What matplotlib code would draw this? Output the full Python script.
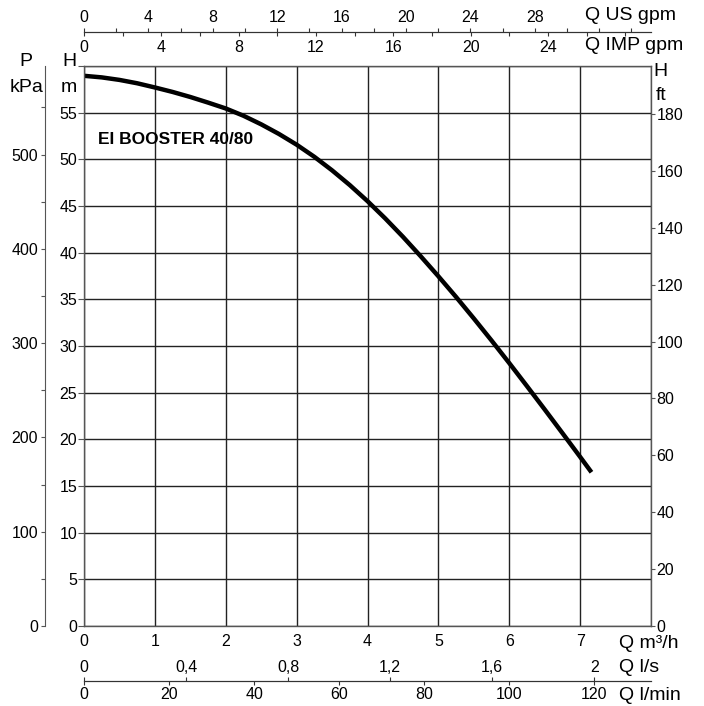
import matplotlib
matplotlib.use('Agg')
import matplotlib.pyplot as plt
from matplotlib.ticker import FixedLocator, MultipleLocator, NullFormatter

plt.rcParams['font.family'] = ['Liberation Sans', 'DejaVu Sans']

# ---- data ----
q_m3h = [0, 0.25, 0.5, 0.75, 1, 1.25, 1.5, 1.75, 2, 2.25, 2.5, 2.75, 3, 3.25, 3.5, 3.75,
         4, 4.25, 4.5, 4.75, 5, 5.25, 5.5, 5.75, 6, 6.25, 6.5, 6.75, 7, 7.16]
h_m = [58.95, 58.78, 58.51, 58.15, 57.70, 57.22, 56.68, 56.08, 55.45, 54.67, 53.75, 52.72,
       51.57, 50.27, 48.82, 47.24, 45.52, 43.67, 41.70, 39.62, 37.47, 35.25, 32.95, 30.59,
       28.17, 25.70, 23.20, 20.67, 18.12, 16.47]

q_ticks = [0, 1, 2, 3, 4, 5, 6, 7, 8]
q_labels = ['0', '1', '2', '3', '4', '5', '6', '7', '']
h_ticks = list(range(0, 61, 5))
h_labels = [str(v) for v in range(0, 56, 5)] + ['']
ft_ticks = list(range(0, 181, 20))
kpa_ticks = [0, 100, 200, 300, 400, 500]
kpa_minor = [50, 150, 250, 350, 450, 550]
ls_ticks = [0, 0.4, 0.8, 1.2, 1.6, 2.0]
ls_labels = ['0', '0,4', '0,8', '1,2', '1,6', '2']
lmin_ticks = [0, 20, 40, 60, 80, 100, 120]
usgpm_ticks = [0, 4, 8, 12, 16, 20, 24, 28]
impgpm_ticks = [0, 4, 8, 12, 16, 20, 24]
title = 'EI BOOSTER 40/80'

Q_MAX, H_MAX = 8, 60
FT_PER_M = 3.2808
KPA_PER_M = 9.9
LS_PER_M3H = 1 / 3.6
LMIN_PER_M3H = 1000 / 60
USGPM_PER_M3H = 4.4029
IMPGPM_PER_M3H = 3.6662

W, H = 704, 706
fig = plt.figure(figsize=(W / 100, H / 100), dpi=100)

def fx(x):
    return x / W

def fy(y):
    return 1 - y / H

TFS = 11.5
TK = '#333333'
L, R, T, B = 84, 651, 66, 626
ax = fig.add_axes([fx(L), fy(B), (R - L) / W, (B - T) / H])
ax.set_xlim(0, Q_MAX)
ax.set_ylim(0, H_MAX)
ax.set_xticks(q_ticks)
ax.set_xticklabels(q_labels)
ax.set_yticks(h_ticks)
ax.set_yticklabels(h_labels)
ax.grid(True, color='#222222', lw=1.0)
ax.set_axisbelow(True)
for s in ax.spines.values():
    s.set_color('#555555')
    s.set_linewidth(1.0)
ax.tick_params(axis='x', length=0, pad=6, labelsize=TFS)
ax.tick_params(axis='y', length=4, width=0.8, color='#555555', pad=1, labelsize=TFS, direction='out')
ax.plot(q_m3h, h_m, color='black', lw=3.2, solid_capstyle='butt', solid_joinstyle='round')

# right ft axis
ax2 = ax.twinx()
ax2.set_ylim(0, H_MAX * FT_PER_M)
ax2.set_yticks(ft_ticks)
ax2.tick_params(axis='y', length=3, width=0.8, color='#555555', pad=1, labelsize=TFS, direction='out')
for s in ax2.spines.values():
    s.set_visible(False)

# left kPa axis
axp = fig.add_axes([fx(45), fy(B), 0.0001, (B - T) / H])
axp.set_ylim(0, H_MAX * KPA_PER_M)
axp.set_yticks(kpa_ticks)
axp.yaxis.set_minor_locator(FixedLocator(kpa_minor))
axp.yaxis.set_minor_formatter(NullFormatter())
axp.set_xticks([])
for k in ('top', 'right', 'bottom'):
    axp.spines[k].set_visible(False)
axp.spines['left'].set_color('#555555')
axp.patch.set_visible(False)
axp.tick_params(axis='y', which='both', length=3, width=0.8, color='#555555', pad=2, labelsize=TFS, direction='out')

def flow_scale(ypix, xmax, side):
    a = fig.add_axes([fx(L), fy(ypix), (R - L) / W, 0.0001])
    a.set_xlim(0, xmax)
    a.set_yticks([])
    for k in ('left', 'right', 'top', 'bottom'):
        a.spines[k].set_visible(k == side)
    a.spines[side].set_color(TK)
    a.patch.set_visible(False)
    a.xaxis.set_ticks_position(side)
    a.xaxis.set_label_position(side)
    return a

# bottom flow scales (l/s above the line, l/min below)
yb = 681
axs = flow_scale(yb, Q_MAX * LS_PER_M3H, 'top')
axs.set_xticks(ls_ticks)
axs.set_xticklabels(ls_labels)
axs.tick_params(axis='x', length=3, width=0.8, pad=1.5, labelsize=TFS, direction='out', color=TK)

axm = flow_scale(yb, Q_MAX * LMIN_PER_M3H, 'bottom')
axm.set_xticks(lmin_ticks)
axm.tick_params(axis='x', length=3, width=0.8, pad=1.5, labelsize=TFS, direction='out', color=TK)

# top flow scales (US gpm above the line, IMP gpm below)
yt = 32
axu = flow_scale(yt, Q_MAX * USGPM_PER_M3H, 'top')
axu.set_xticks(usgpm_ticks)
axu.xaxis.set_minor_locator(MultipleLocator(2))
axu.tick_params(axis='x', which='both', length=3, width=0.8, pad=2, labelsize=TFS, direction='out', color=TK)

axi = flow_scale(yt, Q_MAX * IMPGPM_PER_M3H, 'bottom')
axi.set_xticks(impgpm_ticks)
axi.xaxis.set_minor_locator(MultipleLocator(2))
axi.tick_params(axis='x', which='both', length=3, width=0.8, pad=2.5, labelsize=TFS, direction='out', color=TK)

# unit labels
fs = 14
def lab(x, y, s, ha='left'):
    fig.text(fx(x), fy(y), s, ha=ha, va='center', fontsize=fs)

lab(585, 15, 'Q US gpm')
lab(585, 45, 'Q IMP gpm')
lab(619, 643, 'Q m³/h')
lab(619, 667, 'Q l/s')
lab(619, 695, 'Q l/min')
lab(26, 62, 'P', ha='center')
lab(27, 88, 'kPa', ha='center')
lab(69, 62, 'H', ha='center')
lab(69, 88, 'm', ha='center')
lab(660, 72, 'H', ha='center')
lab(661, 95, 'ft', ha='center')

fig.text(fx(98), fy(140), title, ha='left', va='center', fontsize=12.5,
         fontweight='bold')

fig.savefig('out.png', dpi=100)
